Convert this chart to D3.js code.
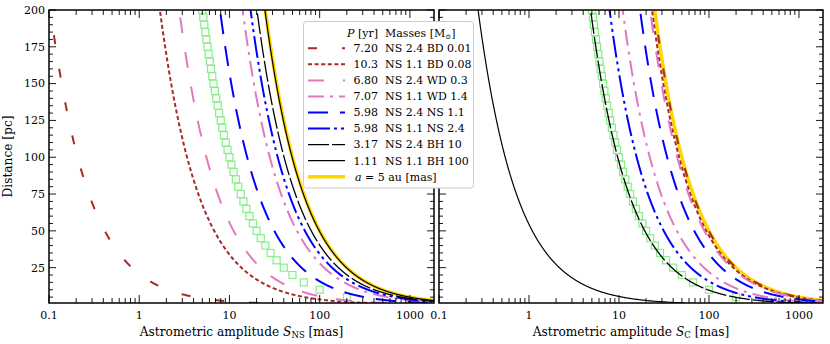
<!DOCTYPE html>
<html><head><meta charset="utf-8">
<script src="https://cdn.jsdelivr.net/npm/d3@7"></script>
<style>body{margin:0;background:#fff}svg{display:block}</style>
</head><body><svg id="c" width="830" height="344"></svg>
<script>
// ---------- data ----------
const periods = ["7.20", "10.3", "6.80", "7.07", "5.98", "5.98", "3.17", "1.11"];
const massLabels = ["NS 2.4 BD 0.01", "NS 1.1 BD 0.08", "NS 2.4 WD 0.3", "NS 1.1 WD 1.4",
                    "NS 2.4 NS 1.1", "NS 1.1 NS 2.4", "NS 2.4 BH 10", "NS 1.1 BH 100"];
const massNS   = [2.4, 1.1, 2.4, 1.1, 2.4, 1.1, 2.4, 1.1];
const massComp = [0.01, 0.08, 0.3, 1.4, 1.1, 2.4, 10, 100];
const semiMajorAU = 5;      // a = 5 au
const squaresAU = 1;        // green square markers
const squareDist = [5,10,15,20,25,30,35,40,45,50,55,60,65,70,75,80,85,90,95,100,
                    105,110,115,120,125,130,135,140,145,150,155,160,165,170,175,180,185,190,195,200];
const xTickVals = [0.1, 1, 10, 100, 1000];
const xTickLabels = ["0.1", "1", "10", "100", "1000"];
const yTickVals = [25, 50, 75, 100, 125, 150, 175, 200];
const yTickLabels = ["25", "50", "75", "100", "125", "150", "175", "200"];
const xDomain = [0.1, 1850];
const yDomain = [1, 200];

// ---------- styles ----------
const colors = ["#a52a2a", "#a52a2a", "#e377c2", "#e377c2", "#0000ff", "#0000ff", "#000000", "#000000"];
const dashes = ["9,25", "4,2.6", "16,19", "16,6,3,6", "20,12", "22,4,3,4,3,4", "21,3", null];
const widths = [2, 2, 2, 2, 2, 2, 1.3, 1.2];
const gold = "#ffd700";
const FONT = "DejaVu Serif";

const svg = d3.select("#c");
const yTop = 10, yBot = 303;
const panels = [
  {x0: 49, x1: 434, kind: "NS", sub: "NS", ylabels: true},
  {x0: 439, x1: 823, kind: "C", sub: "C", ylabels: false}
];

const distSamples = d3.range(1, 200.0001, 0.1);

panels.forEach((p, pi) => {
  const x = d3.scaleLog().domain(xDomain).range([p.x0, p.x1]);
  const y = d3.scaleLinear().domain(yDomain).range([yBot, yTop]);
  const g = svg.append("g");
  const cid = "clip" + pi;
  svg.append("clipPath").attr("id", cid).append("rect")
    .attr("x", p.x0).attr("y", yTop).attr("width", p.x1 - p.x0).attr("height", yBot - yTop);
  const plot = g.append("g").attr("clip-path", `url(#${cid})`);
  const line = d3.line().x(d => x(d[0])).y(d => y(d[1]));

  // a = 5 au line
  plot.append("path")
    .attr("d", line(distSamples.map(d => [1000 * semiMajorAU / d, d])))
    .attr("fill", "none").attr("stroke", gold).attr("stroke-width", 3.5);

  // green squares
  plot.selectAll("rect.sq").data(squareDist).join("rect")
    .attr("x", d => x(1000 * squaresAU / d) - 3.5)
    .attr("y", d => y(d) - 3.5)
    .attr("width", 7).attr("height", 7)
    .attr("fill", "none").attr("stroke", "#86ee86").attr("stroke-width", 1.2);

  // binary curves
  massNS.forEach((mns, i) => {
    const mc = massComp[i];
    const frac = p.kind === "NS" ? mc / (mns + mc) : mns / (mns + mc);
    plot.append("path")
      .attr("d", line(distSamples.map(d => [1000 * semiMajorAU * frac / d, d])))
      .attr("fill", "none").attr("stroke", colors[i]).attr("stroke-width", widths[i])
      .attr("stroke-dasharray", dashes[i]);
  });

  // ticks (inward, all sides)
  const tk = g.append("g").attr("stroke", "#000").attr("stroke-width", 0.9);
  const minorX = [];
  for (let e = -1; e <= 3; e++) for (let m = 2; m <= 9; m++) {
    const v = m * Math.pow(10, e);
    if (v > xDomain[0] && v < xDomain[1]) minorX.push(v);
  }
  const addX = (vals, len) => vals.forEach(v => {
    const xx = x(v);
    tk.append("line").attr("x1", xx).attr("x2", xx).attr("y1", yBot).attr("y2", yBot - len);
    tk.append("line").attr("x1", xx).attr("x2", xx).attr("y1", yTop).attr("y2", yTop + len);
  });
  addX(xTickVals, 8); addX(minorX, 5);
  const minorY = d3.range(5, 200, 5).filter(v => v % 25 !== 0);
  const addY = (vals, len) => vals.forEach(v => {
    const yy = y(v);
    tk.append("line").attr("x1", p.x0).attr("x2", p.x0 + len).attr("y1", yy).attr("y2", yy);
    tk.append("line").attr("x1", p.x1).attr("x2", p.x1 - len).attr("y1", yy).attr("y2", yy);
  });
  addY(yTickVals, 7); addY(minorY, 4);

  // spines
  g.append("rect").attr("x", p.x0).attr("y", yTop).attr("width", p.x1 - p.x0).attr("height", yBot - yTop)
    .attr("fill", "none").attr("stroke", "#000").attr("stroke-width", 1.5);

  // tick labels
  xTickVals.forEach((v, i) => {
    g.append("text").attr("x", x(v)).attr("y", 318.5).attr("text-anchor", "middle")
      .attr("font-family", FONT).attr("font-size", 11).text(xTickLabels[i]);
  });
  if (p.ylabels) {
    yTickVals.forEach((v, i) => {
      g.append("text").attr("x", p.x0 - 4).attr("y", y(v)).attr("dy", "0.35em")
        .attr("text-anchor", "end").attr("font-family", FONT).attr("font-size", 11).text(yTickLabels[i]);
    });
    g.append("text").attr("transform", `translate(12,${(yTop + yBot) / 2}) rotate(-90)`)
      .attr("text-anchor", "middle").attr("font-family", FONT).attr("font-size", 12.2)
      .text("Distance [pc]");
  }
  const xl = g.append("text").attr("x", (p.x0 + p.x1) / 2).attr("y", 335.5).attr("text-anchor", "middle")
    .attr("font-family", FONT).attr("font-size", 12.2);
  xl.append("tspan").text("Astrometric amplitude ");
  xl.append("tspan").attr("font-style", "italic").text("S");
  xl.append("tspan").attr("font-size", 8.5).attr("dy", 2.5).text(p.sub);
  xl.append("tspan").attr("dy", -2.5).text(" [mas]");
});

// ---------- legend ----------
const lg = svg.append("g");
lg.append("rect").attr("x", 303.5).attr("y", 21.5).attr("width", 170).attr("height", 166.5)
  .attr("rx", 3).attr("fill", "#fff").attr("stroke", "#cccccc").attr("stroke-width", 1);
const hdr = lg.append("text").attr("x", 378).attr("y", 32.7).attr("dy", "0.35em").attr("text-anchor", "end")
  .attr("font-family", FONT).attr("font-size", 11);
hdr.append("tspan").attr("font-style", "italic").text("P");
hdr.append("tspan").text(" [yr]");
const hdr2 = lg.append("text").attr("x", 385).attr("y", 32.7).attr("dy", "0.35em")
  .attr("font-family", FONT).attr("font-size", 11);
hdr2.append("tspan").text("Masses [M");
hdr2.append("tspan").attr("font-size", 7).attr("dy", 2.5).text("⊙");
hdr2.append("tspan").attr("dy", -2.5).text("]");
const rowY = i => 48.3 + i * 16.05;
periods.forEach((per, i) => {
  lg.append("line").attr("x1", 308).attr("x2", 345).attr("y1", rowY(i)).attr("y2", rowY(i))
    .attr("stroke", colors[i]).attr("stroke-width", widths[i]).attr("stroke-dasharray", dashes[i]);
  lg.append("text").attr("x", 378).attr("y", rowY(i)).attr("dy", "0.35em").attr("text-anchor", "end")
    .attr("font-family", FONT).attr("font-size", 11).text(per);
  lg.append("text").attr("x", 385).attr("y", rowY(i)).attr("dy", "0.35em")
    .attr("font-family", FONT).attr("font-size", 11).text(massLabels[i]);
});
const ly = rowY(8);
lg.append("line").attr("x1", 308).attr("x2", 345).attr("y1", ly).attr("y2", ly)
  .attr("stroke", gold).attr("stroke-width", 3.5);
const gt = lg.append("text").attr("x", 355).attr("y", ly).attr("dy", "0.35em")
  .attr("font-family", FONT).attr("font-size", 11);
gt.append("tspan").attr("font-style", "italic").text("a");
gt.append("tspan").text(" = 5 au [mas]");
</script></body></html>
